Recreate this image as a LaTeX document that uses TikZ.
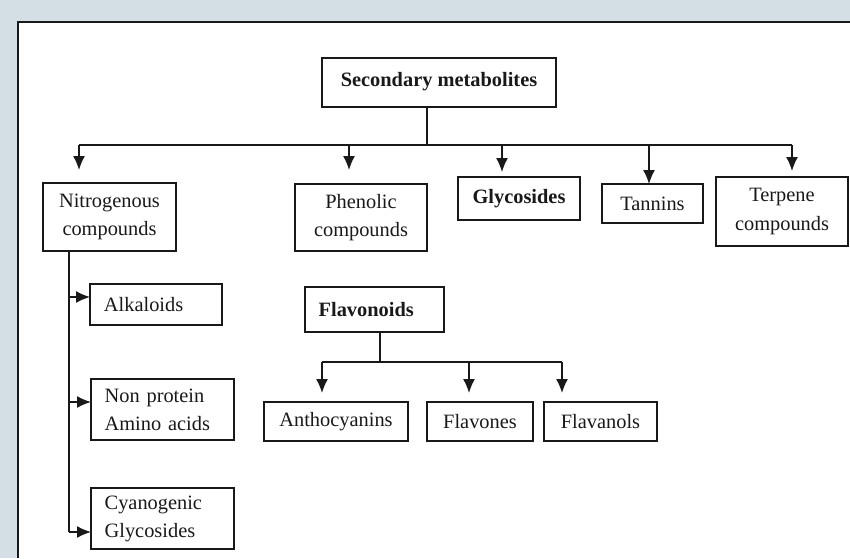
\documentclass[tikz,border=0pt]{standalone}
\usepackage{fontspec}
\setmainfont{Liberation Serif}
\usetikzlibrary{arrows.meta}
\tikzset{>={Latex[length=4.2mm,width=3.6mm]}}
\definecolor{panelbg}{RGB}{211,223,228}
\definecolor{ink}{RGB}{25,25,25}
\newcommand{\boxfont}{\fontsize{17.4}{24}\selectfont}

\begin{document}
\begin{tikzpicture}[x=0.03cm,y=-0.03cm,
	box/.style 2 args={draw=ink, line width=1.1pt, inner sep=0pt, align=center,
		minimum width=#1*0.03cm, minimum height=#2*0.03cm, text=ink, font=\boxfont},
	lbox/.style={align=left, text width=#1, inner xsep=0.41cm},
	heavy/.style={font=\boxfont\bfseries},
	link/.style={draw=ink, line width=1.2pt},
	arr/.style={link, ->}]
	\useasboundingbox (0,0) rectangle (850,558);
	\fill[panelbg] (0,0) rectangle (850,558);
	\fill[white] (18,22) rectangle (850,558);
	\draw[ink, line width=1.2pt] (18,558) -- (18,22) -- (850,22);
	
	% top level
	\node[box={234}{49}, heavy, text depth=6pt] (sec) at (439,82.5) {Secondary metabolites};
	\node[box={133}{68}] (nit) at (109.5,217) {Nitrogenous\\compounds};
	\node[box={132}{67}] (phe) at (361,217.5) {Phenolic\\compounds};
	\node[box={122}{43}, heavy] (gly) at (519,198.5) {Glycosides};
	\node[box={101}{39}] (tan) at (652.5,203.5) {Tannins};
	\node[box={132}{69}] (ter) at (782,211.5) {Terpene\\compounds};
	
	% nitrogenous branch
	\node[box={132}{41}, lbox=3.12cm] (alk) at (156,304.5) {Alkaloids};
	\node[box={143}{61}, lbox=3.47cm] (npa) at (162.5,409.5) {Non protein\\Amino acids};
	\node[box={143}{61}, lbox=3.47cm] (cya) at (162.5,518.5) {Cyanogenic\\Glycosides};
	
	% flavonoid branch
	\node[box={139}{45}, heavy, lbox=3.35cm] (fla) at (374.5,309.5) {Flavonoids};
	\node[box={144}{39}] (ant) at (336,421.5) {Anthocyanins};
	\node[box={106}{39}] (flv) at (480,421.5) {Flavones};
	\node[box={113}{39}] (fvl) at (600.5,421.5) {Flavanols};
	
	\coordinate (bus) at (427,145);
	\coordinate (toNit) at (79,170);
	\coordinate (toPhe) at (349,170);
	\coordinate (toGly) at (502,172);
	\coordinate (toTan) at (649,184);
	\coordinate (toTer) at (792,171);
	\coordinate (nbus) at (69,251);
	\coordinate (toAlk) at (90,297);
	\coordinate (toNpa) at (91,402);
	\coordinate (toCya) at (91,532);
	\coordinate (fbus) at (380,362);
	\coordinate (toAnt) at (322,393);
	\coordinate (toFlv) at (469,393);
	\coordinate (toFvl) at (562,393);
	
	\draw[link] (sec.south -| bus) -- (bus);
	\draw[link] (toNit |- bus) -- (toTer |- bus);
	\foreach \t in {toNit,toPhe,toGly,toTan,toTer}
		\draw[arr] (\t |- bus) -- (\t);
	
	\draw[link] (nit.south -| nbus) -- (nbus |- toCya);
	\foreach \t in {toAlk,toNpa,toCya}
		\draw[arr] (\t -| nbus) -- (\t);
	
	\draw[link] (fla.south -| fbus) -- (fbus);
	\draw[link] (toAnt |- fbus) -- (toFvl |- fbus);
	\foreach \t in {toAnt,toFlv,toFvl}
		\draw[arr] (\t |- fbus) -- (\t);
\end{tikzpicture}
\end{document}
